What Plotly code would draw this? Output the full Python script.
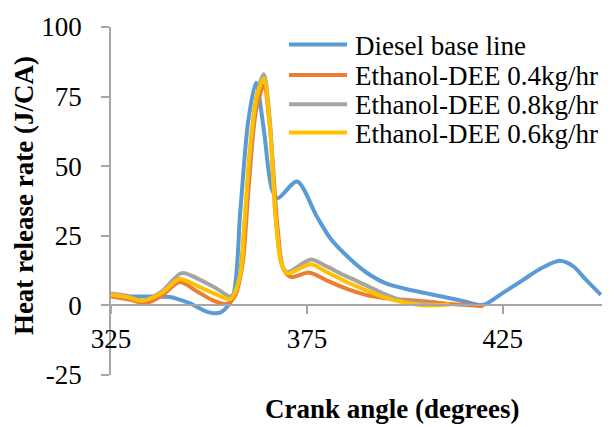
import plotly.graph_objects as go

# Heat release rate vs crank angle for four fuel cases
diesel_x = [325, 330, 335, 340, 345, 350, 353, 356, 358, 360, 362, 364, 366, 367.5,
            372.5, 377.5, 381, 385, 390, 395, 400, 405, 410, 415, 420,
            425, 430, 435, 439.5, 443, 446, 450]
diesel_y = [3.8, 3.2, 3.2, 3.0, 0.8, -2.5, -2.5, 2.5, 34, 66, 80, 63, 42, 38.5,
            44.5, 32, 24, 18, 12, 8, 6, 4.5, 3, 1.5, 0.2,
            4.5, 9, 13.5, 16, 14, 9.5, 3.8]

e04_x = [325, 330, 334, 338, 342.5, 347, 351, 354.5, 356.5, 358.5, 360, 362, 364,
         365.5, 367.5, 369, 371, 375.5, 380, 385, 390, 395, 400, 405, 410, 415, 420]
e04_y = [3.2, 2.0, 0.8, 3.5, 8.4, 5.0, 1.8, 0.5, 3.0, 14, 40, 70, 79,
         65, 28, 13, 10.2, 11.8, 9, 6, 3.8, 2.6, 2.0, 1.5, 0.7, 0.2, -0.3]

e08_x = [325, 329, 333, 338, 343, 348, 352, 355.5, 357.5, 359, 360.5, 362.3, 364,
         365.5, 367, 368.5, 370, 376, 380, 385, 390, 395, 400, 405, 408]
e08_y = [4.3, 3.5, 1.7, 5.0, 11.6, 9.0, 6.0, 3.2, 8, 28, 55, 76, 83,
         67, 32, 15, 12, 16.5, 14, 10.5, 7.3, 4.0, 1.5, 0.6, 0.3]

e06_x = [325, 329, 333, 338, 342.5, 347, 351, 355.5, 358, 359, 360.5, 362.2, 364,
         365.5, 367, 368.5, 370, 376, 380, 385, 390, 395, 400, 405, 411.5]
e06_y = [3.8, 3.0, 1.7, 4.5, 9.5, 7.0, 4.5, 2.3, 11, 28, 57, 75, 81.5,
         65, 32, 15, 11.5, 14.8, 12, 8.5, 5.5, 2.8, 1.0, 0.0, 0.3]

series_names = ["Diesel base line", "Ethanol-DEE 0.4kg/hr",
                "Ethanol-DEE 0.8kg/hr", "Ethanol-DEE 0.6kg/hr"]
series_x = [diesel_x, e04_x, e08_x, e06_x]
series_y = [diesel_y, e04_y, e08_y, e06_y]
series_colors = ["#5B9BD5", "#ED7D31", "#A5A5A5", "#FFC000"]

x_ticks = [325, 375, 425]
y_ticks = [-25, 0, 25, 50, 75, 100]

SERIF = "Liberation Serif"
AXIS_GRAY = "#A6A6A6"
W, H = 616, 427
ML, MR, MT, MB = 111, 14, 19, 52
plot_w = W - ML - MR
plot_h = H - MT - MB


def to_paper(px, py):
    """Pixel position in the page -> paper coordinates of the plot area."""
    return (px - ML) / plot_w, 1 - (py - MT) / plot_h


fig = go.Figure()
for name, xs, ys, color in zip(series_names, series_x, series_y, series_colors):
    fig.add_trace(go.Scatter(
        x=xs, y=ys, name=name, mode="lines", showlegend=False,
        line=dict(color=color, width=4, shape="spline", smoothing=0.8),
    ))

# Legend: a short coloured line with its label for each series
shapes, annotations = [], []
legend_rows = [37, 68, 98, 127]
for name, color, row in zip(series_names, series_colors, legend_rows):
    x0, y0 = to_paper(289, row)
    x1, _ = to_paper(347, row)
    shapes.append(dict(type="line", xref="paper", yref="paper",
                       x0=x0, x1=x1, y0=y0, y1=y0,
                       line=dict(color=color, width=4)))
    tx, ty = to_paper(353, row + 1)
    annotations.append(dict(text=name, x=tx, y=ty, xref="paper", yref="paper",
                            xanchor="left", yanchor="middle", showarrow=False,
                            font=dict(family=SERIF, size=27, color="black")))

# Axis titles
tx, ty = to_paper(392, 410)
annotations.append(dict(text="<b>Crank angle (degrees)</b>", x=tx, y=ty,
                        xref="paper", yref="paper", showarrow=False,
                        xanchor="center", yanchor="middle",
                        font=dict(family=SERIF, size=27, color="black")))
tx, ty = to_paper(24, 192)
annotations.append(dict(text="<b>Heat release rate (J/CA)</b>", x=tx, y=ty,
                        xref="paper", yref="paper", showarrow=False,
                        textangle=-90, xanchor="center", yanchor="middle",
                        font=dict(family=SERIF, size=27, color="black")))

fig.update_layout(
    width=W, height=H,
    margin=dict(l=ML, r=MR, t=MT, b=MB),
    paper_bgcolor="white", plot_bgcolor="white",
    font=dict(family=SERIF, size=27, color="black"),
    showlegend=False,
    shapes=shapes,
    annotations=annotations,
    xaxis=dict(
        range=[325, 450.3], tickvals=x_ticks, ticktext=[str(v) for v in x_ticks],
        showgrid=False, zeroline=False, showline=True, linecolor=AXIS_GRAY,
        linewidth=1.5, ticks="outside", ticklen=8, tickcolor=AXIS_GRAY,
        tickwidth=1.5, anchor="free", position=0.2, ticklabelstandoff=1,
        tickfont=dict(family=SERIF, size=27),
    ),
    yaxis=dict(
        range=[-25, 100], tickvals=y_ticks, ticktext=[str(v) for v in y_ticks],
        showgrid=False, zeroline=False, showline=True, linecolor=AXIS_GRAY,
        linewidth=1.5, ticks="outside", ticklen=8, tickcolor=AXIS_GRAY,
        tickwidth=1.5, ticklabelstandoff=14,
        tickfont=dict(family=SERIF, size=27),
    ),
)

fig.write_html("out.html")
